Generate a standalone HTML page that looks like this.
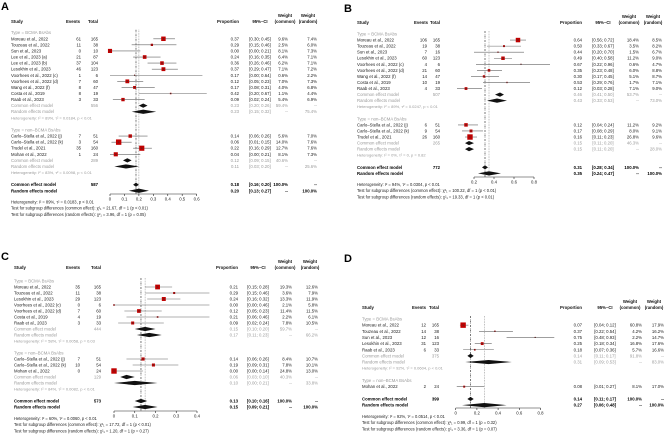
<!DOCTYPE html>
<html><head><meta charset="utf-8">
<style>
html,body{margin:0;padding:0;background:#fff;}
svg{display:block;font-family:"Liberation Sans",sans-serif;}
</style></head>
<body>
<svg id="fig" width="668" height="438" viewBox="0 0 668 438" xmlns="http://www.w3.org/2000/svg"></svg>
<script>
// ---------- Panel A data ----------
const A_study=["Moreau et al., 2022","Touzeau et al., 2022","Sun et al., 2023","Lee et al., 2023 (a)","Lee et al., 2023 (b)","Lesokhin et al., 2023","Voorhees et al., 2022 (c)","Voorhees et al., 2022 (d)","Wang et al., 2022 (f)","Costa et al., 2019","Raab et al., 2023","Carlo–Stella et al., 2022 (j)","Carlo–Stella et al., 2022 (k)","Trudel et al., 2021","Mohan et al., 2022"];
const A_events=[61,11,0,21,37,46,1,7,8,8,3,7,3,35,1];
const A_total=[165,38,10,87,104,123,6,60,47,19,33,51,54,160,24];
const A_p=[0.37,0.29,0.00,0.24,0.36,0.37,0.17,0.12,0.17,0.42,0.09,0.14,0.06,0.22,0.04];
const A_lo=[0.30,0.15,0.00,0.16,0.26,0.29,0.00,0.05,0.08,0.20,0.02,0.06,0.01,0.16,0.00];
const A_hi=[0.45,0.46,0.21,0.35,0.46,0.47,0.64,0.23,0.31,0.67,0.24,0.26,0.15,0.29,0.21];
const A_wc=[9.6,2.5,8.1,6.4,6.2,7.1,0.6,7.0,4.0,1.1,5.4,5.6,14.0,12.7,8.1];
const A_wr=[7.4,6.0,7.3,7.1,7.1,7.2,2.2,7.3,6.8,4.4,6.9,7.0,7.6,7.6,7.3];
const A_grp=[0,0,0,0,0,0,0,0,0,0,0,1,1,1,1];
const A_ce=[0.23,0.12,0.18], A_ceLo=[0.20,0.09,0.16], A_ceHi=[0.26,0.15,0.20];
const A_re=[0.23,0.11,0.20], A_reLo=[0.15,0.03,0.13], A_reHi=[0.32,0.20,0.27];
const A_ceW=["59.4%","40.6%","100.0%"], A_reW=["75.4%","25.6%","100.0%"], A_sumN=[556,289,587];
const A_het=["Heterogeneity: I² = 89%, τ² = 0.0184, p < 0.01","Heterogeneity: I² = 83%, τ² = 0.0098, p < 0.01"];
const A_foot=["Heterogeneity: I² = 89%, τ² = 0.0183, p < 0.01","Test for subgroup differences (common effect): χ²₁ = 21.67, df = 1 (p < 0.01)","Test for subgroup differences (random effects): χ²₁ = 3.96, df = 1 (p = 0.05)"];
const A_ticks=[0,0.1,0.2,0.3,0.4,0.5,0.6];
const A_tickLabels=["0","0.1","0.2","0.3","0.4","0.5","0.6"];

// ---------- Panel B data ----------
const B_study=["Moreau et al., 2022","Touzeau et al., 2022","Sun et al., 2023","Lesokhin et al., 2023","Voorhees et al., 2022 (c)","Voorhees et al., 2022 (d)","Wang et al., 2022 (f)","Costa et al., 2019","Raab et al., 2023","Carlo–Stella et al., 2022 (j)","Carlo–Stella et al., 2022 (k)","Trudel et al., 2021"];
const B_events=[106,19,7,60,4,21,14,10,4,6,9,26];
const B_total=[165,38,16,123,6,60,47,19,33,51,54,160];
const B_p=[0.64,0.50,0.44,0.49,0.67,0.35,0.30,0.53,0.12,0.12,0.17,0.16];
const B_lo=[0.56,0.33,0.20,0.40,0.22,0.23,0.17,0.29,0.03,0.04,0.08,0.11];
const B_hi=[0.72,0.67,0.70,0.58,0.96,0.48,0.45,0.76,0.28,0.24,0.29,0.23];
const B_wc=[18.4,3.5,1.5,11.2,0.6,6.0,5.1,1.7,7.1,11.2,8.0,26.8];
const B_wr=[8.5,8.2,6.7,9.0,4.7,8.8,8.7,7.1,9.0,9.2,9.1,9.6];
const B_grp=[0,0,0,0,0,0,0,0,0,1,1,1];
const B_ce=[0.46,0.15,0.31], B_ceLo=[0.41,0.11,0.28], B_ceHi=[0.50,0.20,0.34];
const B_re=[0.43,0.15,0.35], B_reLo=[0.33,0.11,0.24], B_reHi=[0.53,0.20,0.47];
const B_ceW=["53.7%","46.3%","100.0%"], B_reW=["73.0%","28.0%","100.0%"], B_sumN=[507,265,772];
const B_het=["Heterogeneity: I² = 89%, τ² = 0.0247, p < 0.01","Heterogeneity: I² = 0%, τ² = 0, p = 0.82"];
const B_foot=["Heterogeneity: I² = 94%, τ² = 0.0304, p < 0.01","Test for subgroup differences (common effect): χ²₁ = 100.22, df = 1 (p < 0.01)","Test for subgroup differences (random effects): χ²₁ = 19.33, df = 1 (p < 0.01)"];
const B_ticks=[0.2,0.4,0.6,0.8];
const B_tickLabels=["0.2","0.4","0.6","0.8"];

// ---------- Panel C data ----------
const C_study=["Moreau et al., 2022","Touzeau et al., 2022","Lesokhin et al., 2023","Voorhees et al., 2022 (c)","Voorhees et al., 2022 (d)","Costa et al., 2019","Raab et al., 2023","Carlo–Stella et al., 2022 (j)","Carlo–Stella et al., 2022 (k)","Mohan et al., 2022"];
const C_events=[35,11,29,0,7,4,3,7,10,0];
const C_total=[165,38,123,6,60,19,33,51,54,24];
const C_p=[0.21,0.29,0.24,0.00,0.12,0.21,0.09,0.14,0.19,0.00];
const C_lo=[0.15,0.15,0.16,0.00,0.05,0.06,0.02,0.06,0.09,0.00];
const C_hi=[0.28,0.46,0.32,0.46,0.23,0.46,0.24,0.26,0.31,0.14];
const C_wc=[19.3,3.6,13.3,2.1,11.4,2.2,7.8,8.4,7.8,24.8];
const C_wr=[12.6,7.9,11.9,5.8,11.5,6.1,10.5,10.7,10.1,13.0];
const C_grp=[0,0,0,0,0,0,0,1,1,1];
const C_ce=[0.15,0.06,0.13], C_ceLo=[0.10,0.03,0.10], C_ceHi=[0.20,0.10,0.16];
const C_re=[0.17,0.10,0.15], C_reLo=[0.11,0.00,0.09], C_reHi=[0.23,0.21,0.21];
const C_ceW=["59.7%","40.3%","100.0%"], C_reW=["66.2%","33.8%","100.0%"], C_sumN=[444,129,573];
const C_het=["Heterogeneity: I² = 58%, τ² = 0.0058, p = 0.03","Heterogeneity: I² = 84%, τ² = 0.0082, p < 0.01"];
const C_foot=["Heterogeneity: I² = 60%, τ² = 0.0060, p < 0.01","Test for subgroup differences (common effect): χ²₁ = 17.72, df = 1 (p < 0.01)","Test for subgroup differences (random effects): χ²₁ = 1.20, df = 1 (p = 0.27)"];
const C_ticks=[0,0.1,0.2,0.3,0.4];
const C_tickLabels=["0","0.1","0.2","0.3","0.4"];

// ---------- Panel D data ----------
const D_study=["Moreau et al., 2022","Touzeau et al., 2022","Sun et al., 2023","Lesokhin et al., 2023","Raab et al., 2023","Mohan et al., 2022"];
const D_events=[12,14,12,31,6,2];
const D_total=[165,38,16,123,33,24];
const D_p=[0.07,0.37,0.75,0.25,0.18,0.08];
const D_lo=[0.04,0.22,0.48,0.18,0.07,0.01];
const D_hi=[0.12,0.54,0.93,0.34,0.36,0.27];
const D_wc=[60.8,4.2,2.2,16.8,5.7,8.1];
const D_wr=[17.9,16.2,14.7,17.6,16.6,17.0];
const D_grp=[0,0,0,0,0,1];
const D_ce=[0.14,null,0.14], D_ceLo=[0.11,null,0.11], D_ceHi=[0.17,null,0.17];
const D_re=[0.31,null,0.27], D_reLo=[0.09,null,0.06], D_reHi=[0.53,null,0.48];
const D_ceW=["91.8%","","100.0%"], D_reW=["83.0%","","100.0%"], D_sumN=[375,0,399];
const D_het=["Heterogeneity: I² = 92%, τ² = 0.0604, p < 0.01",""];
const D_foot=["Heterogeneity: I² = 92%, τ² = 0.0514, p < 0.01","Test for subgroup differences (common effect): χ²₁ = 0.99, df = 1 (p = 0.32)","Test for subgroup differences (random effects): χ²₁ = 3.36, df = 1 (p = 0.07)"];
const D_ticks=[0,0.2,0.4,0.6,0.8];
const D_tickLabels=["0","0.2","0.4","0.6","0.8"];

const groupNames=["Type = BCMA BsAbs","Type = non–BCMA BsAbs"];

const svg=document.getElementById('fig');
const NS='http://www.w3.org/2000/svg';
function mk(tag,attrs,parent){const e=document.createElementNS(NS,tag);for(const k in attrs)e.setAttribute(k,attrs[k]);(parent||svg).appendChild(e);return e;}
function txt(parent,x,y,s,anchor,opt){
  opt=opt||{};
  const t=mk('text',{x:x,y:y,'font-size':opt.size||4.3,'text-anchor':anchor||'start',fill:opt.fill||'#222','font-weight':opt.bold?'bold':'normal'},parent);
  t.textContent=s;return t;
}
const f2=v=>v.toFixed(2);
const ci=(l,h)=>'['+f2(l)+'; '+f2(h)+']';

function panel(P,L){
  const g=mk('g',{});
  
  
  const lab=txt(g,L.labX,L.labY,L.letter,'start',{size:11,bold:true,fill:'#000'});
  
  
  const X=v=>L.x0+(v-L.v0)*L.scale;
  const hy=L.headY;
  const hdr=mk('g',{},g);
  
  
  const hb={bold:true,fill:'#111'};
  txt(hdr,L.studyX,hy,'Study','start',hb);
  txt(hdr,L.evHx,hy,'Events','middle',hb);
  txt(hdr,L.totR,hy,'Total','end',hb);
  txt(hdr,L.propR,hy,'Proportion','end',hb);
  txt(hdr,L.ciC,hy,'95%–CI','middle',hb);
  txt(hdr,L.wcH,hy-6,'Weight','middle',hb);
  txt(hdr,L.wcH,hy,'(common)','middle',hb);
  txt(hdr,L.wrH,hy-6,'Weight','middle',hb);
  txt(hdr,L.wrH,hy,'(random)','middle',hb);

  let r=0;const Y=i=>L.row0+i*L.step;
  const wmax=Math.max.apply(null,P.wc);
  const gray='#9a9a9a';
  const firstY=Y(0)-3, lastY=L.axisY;
  const cl=mk('line',{x1:X(P.ce[2]),x2:X(P.ce[2]),y1:firstY,y2:lastY,stroke:'#222','stroke-width':0.6,'stroke-dasharray':'2,1,0.5,1'},g);
  
  
  const rl=mk('line',{x1:X(P.re[2]),x2:X(P.re[2]),y1:firstY,y2:lastY,stroke:'#777','stroke-width':0.6,'stroke-dasharray':'0.7,0.9'},g);
  
  

  function diamond(est,lo,hi,y,name){
    const d=mk('polygon',{points:X(lo)+','+y+' '+X(est)+','+(y-2.1)+' '+X(hi)+','+y+' '+X(est)+','+(y+2.1),fill:'#111'},g);
    
    
  }
  for(let gi=0;gi<2;gi++){
    const idx=[];P.grp.forEach((v,i)=>{if(v===gi)idx.push(i);});
    const sl=txt(g,L.studyX,Y(r)+1.5,groupNames[gi],'start',{fill:gray});
    
    
    r++;
    idx.forEach(i=>{
      const y=Y(r);const ty=y+1.5;
      const row=mk('g',{},g);
      
      
      txt(row,L.studyX,ty,P.study[i]);
      txt(row,L.evR,ty,String(P.events[i]),'end');
      txt(row,L.totR,ty,String(P.total[i]),'end');
      txt(row,L.propR,ty,f2(P.p[i]),'end');
      txt(row,L.ciC,ty,ci(P.lo[i],P.hi[i]),'middle');
      txt(row,L.wcR,ty,P.wc[i].toFixed(1)+'%','end');
      txt(row,L.wrR,ty,P.wr[i].toFixed(1)+'%','end');
      const ln=mk('line',{x1:X(P.lo[i]),x2:X(P.hi[i]),y1:y,y2:y,stroke:'#666','stroke-width':0.6},row);
      
      
      const s=Math.max(1.1,5.4*Math.sqrt(P.wc[i]/wmax));
      const b=mk('rect',{x:X(P.p[i])-s/2,y:y-s/2,width:s,height:s,fill:'#c00000'},row);
      
      
      const c=mk('rect',{x:X(P.p[i])-0.5,y:y-0.5,width:1,height:1,fill:'#333'},row);
      
      
      r++;
    });
    if(P.ce[gi]!==null){
      let y=Y(r);
      txt(g,L.studyX,y+1.5,'Common effect model','start',{fill:gray});
      txt(g,L.totR,y+1.5,String(P.sumN[gi]),'end',{fill:gray});
      txt(g,L.propR,y+1.5,f2(P.ce[gi]),'end',{fill:gray});
      txt(g,L.ciC,y+1.5,ci(P.ceLo[gi],P.ceHi[gi]),'middle',{fill:gray});
      txt(g,L.wcR,y+1.5,P.ceW[gi],'end',{fill:gray});
      txt(g,L.wrR,y+1.5,'--','end',{fill:gray});
      diamond(P.ce[gi],P.ceLo[gi],P.ceHi[gi],y,'subgroup-common-diamond');
      r++;y=Y(r);
      txt(g,L.studyX,y+1.5,'Random effects model','start',{fill:gray});
      txt(g,L.propR,y+1.5,f2(P.re[gi]),'end',{fill:gray});
      txt(g,L.ciC,y+1.5,ci(P.reLo[gi],P.reHi[gi]),'middle',{fill:gray});
      txt(g,L.wcR,y+1.5,'--','end',{fill:gray});
      txt(g,L.wrR,y+1.5,P.reW[gi],'end',{fill:gray});
      diamond(P.re[gi],P.reLo[gi],P.reHi[gi],y,'subgroup-random-diamond');
      r++;y=Y(r);
      txt(g,L.studyX,y+1.5,P.het[gi],'start',{fill:gray,size:4});
      r++;
    }
    r++;
  }
  let y=Y(r);const bk={bold:true,fill:'#000'};
  txt(g,L.studyX,y+1.5,'Common effect model','start',bk);
  txt(g,L.totR,y+1.5,String(P.sumN[2]),'end',bk);
  txt(g,L.propR,y+1.5,f2(P.ce[2]),'end',bk);
  txt(g,L.ciC,y+1.5,ci(P.ceLo[2],P.ceHi[2]),'middle',bk);
  txt(g,L.wcR,y+1.5,P.ceW[2],'end',bk);
  txt(g,L.wrR,y+1.5,'--','end',bk);
  diamond(P.ce[2],P.ceLo[2],P.ceHi[2],y,'overall-common-diamond');
  r++;y=Y(r);
  txt(g,L.studyX,y+1.5,'Random effects model','start',bk);
  txt(g,L.propR,y+1.5,f2(P.re[2]),'end',bk);
  txt(g,L.ciC,y+1.5,ci(P.reLo[2],P.reHi[2]),'middle',bk);
  txt(g,L.wcR,y+1.5,'--','end',bk);
  txt(g,L.wrR,y+1.5,P.reW[2],'end',bk);
  diamond(P.re[2],P.reLo[2],P.reHi[2],y,'overall-random-diamond');

  const ax=mk('g',{},g);
  
  
  const t0=P.ticks[0],t1=P.ticks[P.ticks.length-1];
  mk('line',{x1:X(t0),x2:X(t1),y1:L.axisY,y2:L.axisY,stroke:'#222','stroke-width':0.6},ax);
  P.ticks.forEach((t,i)=>{
    mk('line',{x1:X(t),x2:X(t),y1:L.axisY,y2:L.axisY+2,stroke:'#222','stroke-width':0.6},ax);
    txt(ax,X(t),L.axisY+6.5,P.tickLabels[i],'middle',{fill:'#222'});
  });
  P.foot.forEach((s,i)=>{
    const ft=txt(g,L.studyX,L.footY+i*6.2,s,'start',{fill:'#222',size:4.1});
    
    
  });
}
panel({study:A_study,events:A_events,total:A_total,p:A_p,lo:A_lo,hi:A_hi,wc:A_wc,wr:A_wr,grp:A_grp,ce:A_ce,ceLo:A_ceLo,ceHi:A_ceHi,re:A_re,reLo:A_reLo,reHi:A_reHi,ceW:A_ceW,reW:A_reW,sumN:A_sumN,het:A_het,foot:A_foot,ticks:A_ticks,tickLabels:A_tickLabels},
 {letter:'A',labX:1,labY:10,headY:23,studyX:11,evHx:73,evR:81,totR:98,propR:239,ciC:260,wcH:285,wcR:288,wrH:308,wrR:317,row0:32.7,step:6.08,x0:110,v0:0,scale:144.4,axisY:194,footY:203.5});
panel({study:B_study,events:B_events,total:B_total,p:B_p,lo:B_lo,hi:B_hi,wc:B_wc,wr:B_wr,grp:B_grp,ce:B_ce,ceLo:B_ceLo,ceHi:B_ceHi,re:B_re,reLo:B_reLo,reHi:B_reHi,ceW:B_ceW,reW:B_reW,sumN:B_sumN,het:B_het,foot:B_foot,ticks:B_ticks,tickLabels:B_tickLabels},
 {letter:'B',labX:344,labY:12,headY:24,studyX:357,evHx:421,evR:427,totR:440,propR:582,ciC:603,wcH:629,wcR:639,wrH:653,wrR:662,row0:34,step:6.06,x0:474,v0:0.2,scale:100,axisY:177,footY:186});
panel({study:C_study,events:C_events,total:C_total,p:C_p,lo:C_lo,hi:C_hi,wc:C_wc,wr:C_wr,grp:C_grp,ce:C_ce,ceLo:C_ceLo,ceHi:C_ceHi,re:C_re,reLo:C_reLo,reHi:C_reHi,ceW:C_ceW,reW:C_reW,sumN:C_sumN,het:C_het,foot:C_foot,ticks:C_ticks,tickLabels:C_tickLabels},
 {letter:'C',labX:1,labY:260,headY:269,studyX:14,evHx:73,evR:80,totR:101,propR:238,ciC:258,wcH:285,wcR:292,wrH:310,wrR:318,row0:281,step:6.0,x0:114,v0:0,scale:207.5,axisY:411,footY:420});
panel({study:D_study,events:D_events,total:D_total,p:D_p,lo:D_lo,hi:D_hi,wc:D_wc,wr:D_wr,grp:D_grp,ce:D_ce,ceLo:D_ceLo,ceHi:D_ceHi,re:D_re,reLo:D_reLo,reHi:D_reHi,ceW:D_ceW,reW:D_reW,sumN:D_sumN,het:D_het,foot:D_foot,ticks:D_ticks,tickLabels:D_tickLabels},
 {letter:'D',labX:344,labY:262,headY:309,studyX:362,evHx:419,evR:426,totR:439,propR:582,ciC:605,wcH:630,wcR:642,wrH:654,wrR:664,row0:319,step:6.15,x0:455.7,v0:0,scale:106,axisY:408,footY:418});
</script>
</body></html>
